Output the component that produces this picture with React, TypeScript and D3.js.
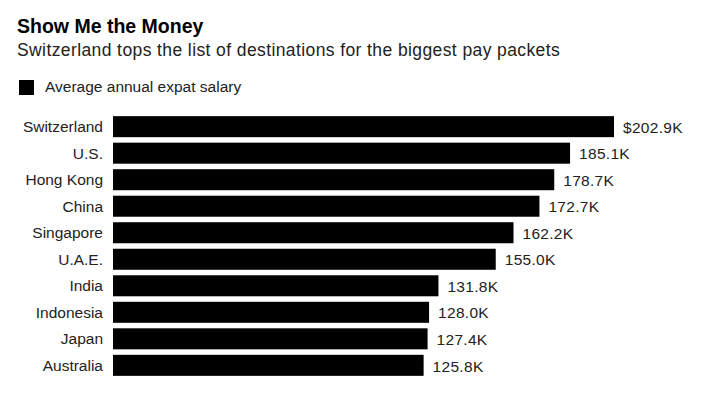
import React from "react";
import * as d3 from "d3";

const countries = ["Switzerland", "U.S.", "Hong Kong", "China", "Singapore", "U.A.E.", "India", "Indonesia", "Japan", "Australia"];
const salaries = [202.9, 185.1, 178.7, 172.7, 162.2, 155.0, 131.8, 128.0, 127.4, 125.8];
const title = "Show Me the Money";
const subtitle = "Switzerland tops the list of destinations for the biggest pay packets";
const legendLabel = "Average annual expat salary";

export default function App() {
  const W = 714, H = 399;
  const x = d3.scaleLinear().domain([0, 202.9]).range([113, 614]);
  const y = d3.scaleBand<string>().domain(countries).range([113.5, 378.5]).paddingInner(0.2075).paddingOuter(0.1);
  const font = "'Liberation Sans', Arial, Helvetica, sans-serif";
  return (
    <svg width={W} height={H} style={{ position: "absolute", left: 0, top: 0, background: "#fff" }} fontFamily={font}>
      <text x={17} y={33} fontSize={19.5} fontWeight="bold" fill="#000">{title}</text>
      <text x={17} y={56} fontSize={17.5} letterSpacing={0.4} fill="#222">{subtitle}</text>
      <rect x={19} y={80} width={15} height={15} fill="#000" />
      <text x={45} y={92} fontSize={15.5} fill="#222">{legendLabel}</text>
      {countries.map((c, i) => {
        const yy = y(c)!;
        const bh = y.bandwidth();
        const v = salaries[i];
        return (
          <g key={c}>
            <rect x={x(0)} y={yy} width={x(v) - x(0)} height={bh} fill="#000" />
            <text x={103} y={yy + bh / 2} dy="0.35em" textAnchor="end" fontSize={15.5} fill="#222">{c}</text>
            <text x={x(v) + 9} y={yy + bh / 2} dy="0.4em" fontSize={15.5} letterSpacing={0.3} fill="#222">{(i === 0 ? "$" : "") + v.toFixed(1) + "K"}</text>
          </g>
        );
      })}
    </svg>
  );
}
